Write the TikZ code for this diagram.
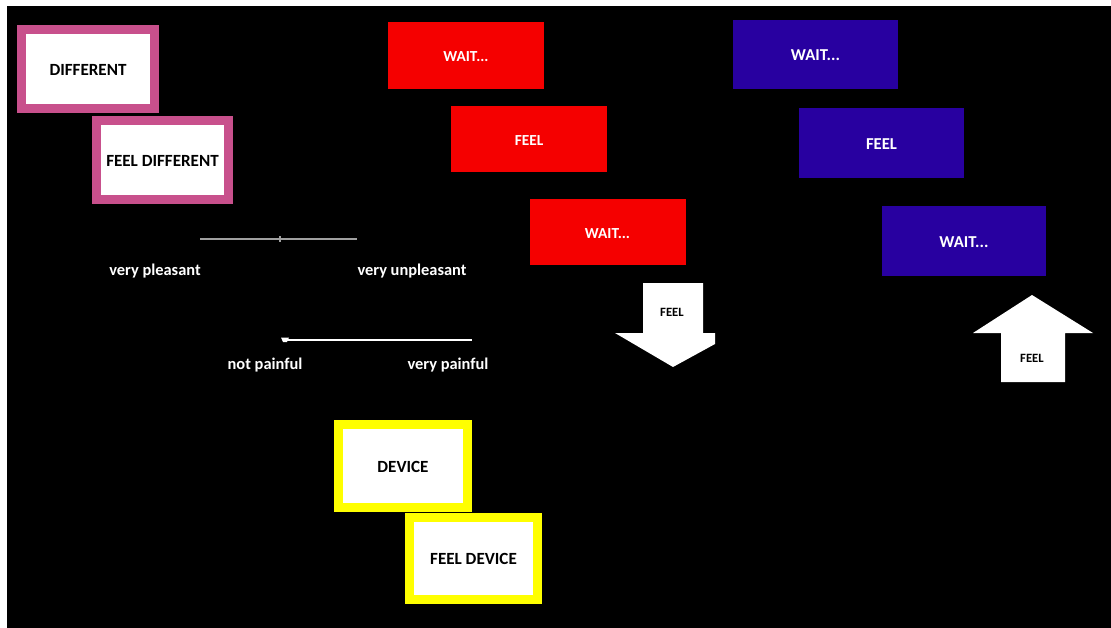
\documentclass[tikz,border=0pt]{standalone}
\usepackage{fontspec}
\setmainfont{Carlito}
\definecolor{framepink}{RGB}{200,80,140}
\definecolor{boxred}{RGB}{245,0,0}
\definecolor{boxblue}{RGB}{40,0,160}
\definecolor{frameyellow}{RGB}{255,255,0}
\definecolor{scalegray}{RGB}{160,160,160}
\tikzset{
  boxtext/.style={text height=0.97em, text depth=0pt},
  framed/.style={fill=white, line width=6.75pt, inner sep=0pt, boxtext, font=\bfseries\fontsize{12.8}{14}\selectfont, text=black},
  pinkframe/.style={framed, draw=framepink},
  yellowframe/.style={framed, draw=frameyellow},
  colorbox/.style={inner sep=0pt, boxtext, minimum width=117pt, minimum height=50pt, text=white, font=\bfseries\fontsize{11.5}{13}\selectfont},
  redbox/.style={colorbox, fill=boxred},
  bluebox/.style={colorbox, fill=boxblue, minimum width=123.5pt, minimum height=52pt, font=\bfseries\fontsize{12.5}{14}\selectfont},
  scalelabel/.style={text=white, font=\bfseries\fontsize{12.3}{14}\selectfont},
  arrowlabel/.style={text=black, font=\bfseries\fontsize{9.5}{11}\selectfont},
  bigarrow/.style={fill=white, draw=none}
}
\begin{document}
\begin{tikzpicture}[x=0.75pt, y=-0.75pt]
\useasboundingbox (0,0) rectangle (1111,628);
\fill[black] (7,6) rectangle (1111,628);

% framed word cards
\node[pinkframe, minimum width=99.75pt, minimum height=59.25pt] (diff) at (88,69) {DIFFERENT};
\node[pinkframe, minimum width=99pt, minimum height=59.25pt] (feeldiff) at (162.5,160) {FEEL DIFFERENT};
\node[yellowframe, minimum width=96.75pt, minimum height=62.25pt] (device) at (403,466) {DEVICE};
\node[yellowframe, minimum width=96pt, minimum height=61.5pt] (feeldevice) at (473.5,558.5) {FEEL DEVICE};

% red sequence
\node[redbox] (rwait1) at (466,55.5) {WAIT...};
\node[redbox] (rfeel) at (529,139) {FEEL};
\node[redbox] (rwait2) at (607.5,232) {WAIT...};

% blue sequence
\node[bluebox] (bwait1) at (815.5,54.5) {WAIT...};
\node[bluebox] (bfeel) at (881.5,143) {FEEL};
\node[bluebox] (bwait2) at (964,241) {WAIT...};

% pleasantness scale
\coordinate (pl) at (200,239);
\coordinate (pm) at (280,239);
\coordinate (pr) at (357,239);
\draw[scalegray, line width=1pt] (pl) -- (pr);
\draw[scalegray, line width=0.8pt] ([yshift=2pt]pm) -- ([yshift=-2pt]pm);
\node[scalelabel] (vpleasant) at (155,271) {very pleasant};
\node[scalelabel] (vunpleasant) at (412,271) {very unpleasant};

% pain scale
\coordinate (nl) at (285,340);
\coordinate (nr) at (472,340);
\draw[white, line width=0.9pt] (nl) -- (nr);
\fill[white] (281,337.5) -- (289,337.5) -- (287,342) -- (283,342) -- cycle;
\node[scalelabel] (notpain) at (265,365) {not painful};
\node[scalelabel] (verypain) at (448,365) {very painful};

% down arrow
\fill[bigarrow] (643,283) -- (703,283) -- (703,333) -- (715,333) -- (715,344)
  -- (673,367) -- (615,333) -- (643,333) -- cycle;
\node[arrowlabel] (downfeel) at (672,312) {FEEL};

% up arrow
\fill[bigarrow] (1032,295) -- (1093,333) -- (1065,333) -- (1065,382)
  -- (1001,382) -- (1001,333) -- (973,333) -- cycle;
\node[arrowlabel] (upfeel) at (1032,358) {FEEL};
\end{tikzpicture}
\end{document}
